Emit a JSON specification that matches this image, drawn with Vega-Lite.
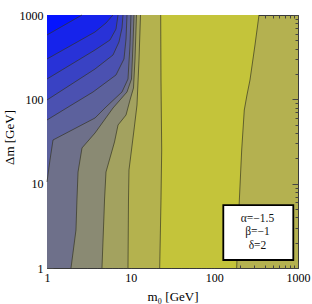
{
  "$schema": "https://vega.github.io/schema/vega-lite/v6.json",
  "width": 251,
  "height": 253,
  "autosize": {"type": "none"},
  "padding": {"left": 47, "top": 15, "right": 14, "bottom": 36},
  "background": "white",
  "config": {
    "view": {"fill": "#b4b150", "stroke": "#3a3a3a", "strokeWidth": 1},
    "axis": {
      "grid": false, "domain": false, "tickColor": "#444", "tickWidth": 1,
      "labelFont": "Liberation Serif", "labelFontSize": 12, "labelColor": "#000",
      "titleFont": "Liberation Serif", "titleFontSize": 13, "titleFontWeight": "normal", "titleColor": "#000",
      "labelOverlap": false, "labelFlush": false
    }
  },
  "datasets": {
    "ct": [
      {"c": "c1", "i": 0, "x": 1, "y": 579.4}, {"c": "c1", "i": 1, "x": 2.62, "y": 1000},
      {"c": "c2", "i": 0, "x": 1, "y": 300.8}, {"c": "c2", "i": 1, "x": 3.75, "y": 628.9}, {"c": "c2", "i": 2, "x": 5.07, "y": 804}, {"c": "c2", "i": 3, "x": 6.15, "y": 1000},
      {"c": "c3", "i": 0, "x": 1, "y": 174.2}, {"c": "c3", "i": 1, "x": 3.75, "y": 384.6}, {"c": "c3", "i": 2, "x": 5.66, "y": 505.3}, {"c": "c3", "i": 3, "x": 6.68, "y": 682.3}, {"c": "c3", "i": 4, "x": 7.06, "y": 1000},
      {"c": "c4", "i": 0, "x": 1, "y": 98.2}, {"c": "c4", "i": 1, "x": 3.75, "y": 228.9}, {"c": "c4", "i": 2, "x": 6.15, "y": 335.6}, {"c": "c4", "i": 3, "x": 7.25, "y": 478.6}, {"c": "c4", "i": 4, "x": 7.88, "y": 701.5}, {"c": "c4", "i": 5, "x": 8.1, "y": 1000},
      {"c": "c5", "i": 0, "x": 1, "y": 56.9}, {"c": "c5", "i": 1, "x": 1.88, "y": 83.4}, {"c": "c5", "i": 2, "x": 3.55, "y": 122.2}, {"c": "c5", "i": 3, "x": 6.68, "y": 194.4}, {"c": "c5", "i": 4, "x": 8.32, "y": 300.8}, {"c": "c5", "i": 5, "x": 8.8, "y": 519.3}, {"c": "c5", "i": 6, "x": 9.04, "y": 1000},
      {"c": "c6", "i": 0, "x": 1, "y": 10.47}, {"c": "c6", "i": 1, "x": 1.086, "y": 19.09}, {"c": "c6", "i": 2, "x": 1.18, "y": 32.95}, {"c": "c6", "i": 3, "x": 3.75, "y": 60.07}, {"c": "c6", "i": 4, "x": 5.07, "y": 81.1}, {"c": "c6", "i": 5, "x": 7.88, "y": 122.2}, {"c": "c6", "i": 6, "x": 9.29, "y": 174.2}, {"c": "c6", "i": 7, "x": 9.82, "y": 441}, {"c": "c6", "i": 8, "x": 10.09, "y": 1000},
      {"c": "A", "i": 0, "x": 1.936, "y": 1}, {"c": "A", "i": 1, "x": 2.22, "y": 2.82}, {"c": "A", "i": 2, "x": 2.28, "y": 6.4}, {"c": "A", "i": 3, "x": 2.35, "y": 13.75}, {"c": "A", "i": 4, "x": 2.62, "y": 26.5}, {"c": "A", "i": 5, "x": 3.75, "y": 39.9}, {"c": "A", "i": 6, "x": 6.15, "y": 78.9}, {"c": "A", "i": 7, "x": 9.04, "y": 122.2}, {"c": "A", "i": 8, "x": 10.23, "y": 174.2}, {"c": "A", "i": 9, "x": 10.66, "y": 441}, {"c": "A", "i": 10, "x": 10.96, "y": 1000},
      {"c": "B", "i": 0, "x": 4.54, "y": 1}, {"c": "B", "i": 1, "x": 4.8, "y": 4.25}, {"c": "B", "i": 2, "x": 4.87, "y": 6.4}, {"c": "B", "i": 3, "x": 5.07, "y": 13.75}, {"c": "B", "i": 4, "x": 6.41, "y": 31.2}, {"c": "B", "i": 5, "x": 7.06, "y": 49.6}, {"c": "B", "i": 6, "x": 8.8, "y": 65.2}, {"c": "B", "i": 7, "x": 9.82, "y": 98.2}, {"c": "B", "i": 8, "x": 10.81, "y": 136.3}, {"c": "B", "i": 9, "x": 11.27, "y": 300.8}, {"c": "B", "i": 10, "x": 11.74, "y": 1000},
      {"c": "C", "i": 0, "x": 9.29, "y": 1}, {"c": "C", "i": 1, "x": 9.42, "y": 6.4}, {"c": "C", "i": 2, "x": 9.55, "y": 14.53}, {"c": "C", "i": 3, "x": 10.23, "y": 25.07}, {"c": "C", "i": 4, "x": 10.96, "y": 43.3}, {"c": "C", "i": 5, "x": 11.9, "y": 85.7}, {"c": "C", "i": 6, "x": 12.58, "y": 292.8}, {"c": "C", "i": 7, "x": 13.11, "y": 1000},
      {"c": "D", "i": 0, "x": 22.23, "y": 1}, {"c": "D", "i": 1, "x": 23.04, "y": 6.4}, {"c": "D", "i": 2, "x": 23.49, "y": 25.07}, {"c": "D", "i": 3, "x": 23.04, "y": 169.6}, {"c": "D", "i": 4, "x": 22.85, "y": 1000},
      {"c": "E", "i": 0, "x": 185, "y": 1}, {"c": "E", "i": 1, "x": 194.5, "y": 3.92}, {"c": "E", "i": 2, "x": 212.3, "y": 25.07}, {"c": "E", "i": 3, "x": 228.1, "y": 74.7}, {"c": "E", "i": 4, "x": 245.6, "y": 112.6}, {"c": "E", "i": 5, "x": 266.8, "y": 169.6}, {"c": "E", "i": 6, "x": 306.2, "y": 441}, {"c": "E", "i": 7, "x": 341.9, "y": 1000}
    ],
    "box": [{"x": 128, "x2": 878.6, "y": 1.244, "y2": 5.58}],
    "lbl": [
      {"x": 328, "y": 3.85, "t": "α=−1.5"},
      {"x": 328, "y": 2.67, "t": "β=−1"},
      {"x": 328, "y": 1.82, "t": "δ=2"}
    ]
  },
  "layer": [
    {
      "data": {"name": "ct"},
      "encoding": {
        "y": {"field": "y", "type": "quantitative", "stack": null,
          "scale": {"type": "log", "domain": [1, 1000], "nice": false},
          "axis": {"orient": "left",
            "values": [1,2,3,4,5,6,7,8,9,10,20,30,40,50,60,70,80,90,100,200,300,400,500,600,700,800,900,1000],
            "labelExpr": "datum.value==1||datum.value==10||datum.value==100||datum.value==1000 ? ''+datum.value : ''",
            "tickSize": {"condition": {"test": "datum.value==1||datum.value==10||datum.value==100||datum.value==1000", "value": -6}, "value": -3},
            "labelPadding": 10,
            "title": "Δm [GeV]", "titleAngle": 270, "titleX": -38, "titleY": 122, "titleAlign": "center", "titleBaseline": "middle"}},
        "x": {"field": "x", "type": "quantitative", "stack": null,
          "scale": {"type": "log", "domain": [1, 1000], "nice": false},
          "axis": {"orient": "bottom",
            "values": [1,2,3,4,5,6,7,8,9,10,20,30,40,50,60,70,80,90,100,200,300,400,500,600,700,800,900,1000],
            "labelExpr": "datum.value==1||datum.value==10||datum.value==100||datum.value==1000 ? ''+datum.value : ''",
            "tickSize": {"condition": {"test": "datum.value==1||datum.value==10||datum.value==100||datum.value==1000", "value": -6}, "value": -3},
            "labelPadding": 10,
            "title": "m₀ [GeV]", "titleY": 28, "titleBaseline": "middle"}},
        "x2": {"datum": 1}
      },
      "layer": [
        {"transform": [{"filter": "datum.c==='E'"}], "mark": {"type": "area", "orient": "horizontal", "fill": "#c4c43a"}},
        {"transform": [{"filter": "datum.c==='D'"}], "mark": {"type": "area", "orient": "horizontal", "fill": "#b4b24e"}},
        {"transform": [{"filter": "datum.c==='C'"}], "mark": {"type": "area", "orient": "horizontal", "fill": "#a3a25f"}},
        {"transform": [{"filter": "datum.c==='B'"}], "mark": {"type": "area", "orient": "horizontal", "fill": "#8a8a73"}},
        {"transform": [{"filter": "datum.c==='A'"}], "mark": {"type": "area", "orient": "horizontal", "fill": "#6e708a"}},
        {"transform": [{"filter": "datum.c==='c6'"}], "mark": {"type": "area", "orient": "horizontal", "fill": "#5c619d"}},
        {"transform": [{"filter": "datum.c==='c5'"}], "mark": {"type": "area", "orient": "horizontal", "fill": "#4b51b1"}},
        {"transform": [{"filter": "datum.c==='c4'"}], "mark": {"type": "area", "orient": "horizontal", "fill": "#3942c4"}},
        {"transform": [{"filter": "datum.c==='c3'"}], "mark": {"type": "area", "orient": "horizontal", "fill": "#2832d8"}},
        {"transform": [{"filter": "datum.c==='c2'"}], "mark": {"type": "area", "orient": "horizontal", "fill": "#1623eb"}},
        {"transform": [{"filter": "datum.c==='c1'"}], "mark": {"type": "area", "orient": "horizontal", "fill": "#0514ff"}}
      ]
    },
    {
      "data": {"name": "ct"},
      "mark": {"type": "line", "color": "#33331f", "strokeWidth": 0.9, "opacity": 0.75},
      "encoding": {
        "x": {"field": "x", "type": "quantitative", "scale": {"type": "log", "domain": [1, 1000], "nice": false},
          "axis": {"orient": "top", "labels": false, "title": null,
            "values": [1,2,3,4,5,6,7,8,9,10,20,30,40,50,60,70,80,90,100,200,300,400,500,600,700,800,900,1000],
            "tickSize": {"condition": {"test": "datum.value==1||datum.value==10||datum.value==100||datum.value==1000", "value": -6}, "value": -3}}},
        "y": {"field": "y", "type": "quantitative", "scale": {"type": "log", "domain": [1, 1000], "nice": false},
          "axis": {"orient": "right", "labels": false, "title": null,
            "values": [1,2,3,4,5,6,7,8,9,10,20,30,40,50,60,70,80,90,100,200,300,400,500,600,700,800,900,1000],
            "tickSize": {"condition": {"test": "datum.value==1||datum.value==10||datum.value==100||datum.value==1000", "value": -6}, "value": -3}}},
        "detail": {"field": "c"},
        "order": {"field": "i", "type": "quantitative"}
      }
    },
    {
      "data": {"name": "box"},
      "mark": {"type": "rect", "fill": "white", "stroke": "black", "strokeWidth": 1.8},
      "encoding": {
        "x": {"field": "x", "type": "quantitative", "axis": null},
        "x2": {"field": "x2"},
        "y": {"field": "y", "type": "quantitative", "axis": null},
        "y2": {"field": "y2"}
      }
    },
    {
      "data": {"name": "lbl"},
      "mark": {"type": "text", "font": "Liberation Serif", "fontSize": 11.5, "align": "center", "baseline": "middle", "color": "#111"},
      "encoding": {
        "x": {"field": "x", "type": "quantitative", "axis": null},
        "y": {"field": "y", "type": "quantitative", "axis": null},
        "text": {"field": "t"}
      }
    }
  ]
}
